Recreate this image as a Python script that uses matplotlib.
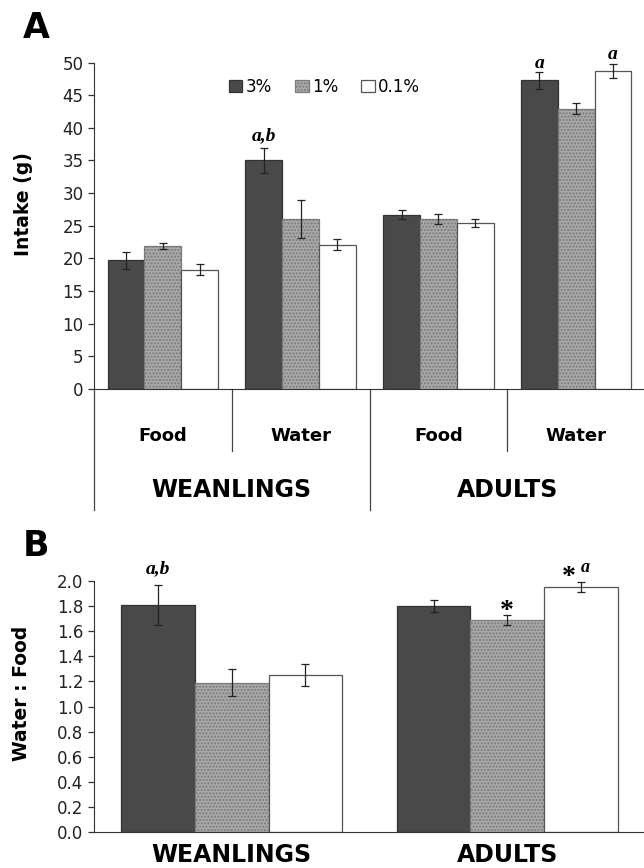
import matplotlib
matplotlib.use("Agg")
import matplotlib.pyplot as plt
import numpy as np

# panel A: intake (g)
cats_a = ["Food", "Water", "Food", "Water"]
ages = ["WEANLINGS", "ADULTS"]
a_3 = [19.7, 35.0, 26.7, 47.3]
a_3_err = [1.25, 1.85, 0.65, 1.3]
a_1 = [21.9, 26.0, 26.0, 42.9]
a_1_err = [0.45, 2.9, 0.8, 0.85]
a_01 = [18.3, 22.1, 25.4, 48.7]
a_01_err = [0.85, 0.85, 0.65, 1.1]

# panel B: water : food ratio
b_3 = [1.81, 1.80]
b_3_err = [0.16, 0.05]
b_1 = [1.19, 1.69]
b_1_err = [0.11, 0.04]
b_01 = [1.25, 1.95]
b_01_err = [0.085, 0.04]

labels = ["3%", "1%", "0.1%"]

plt.rcParams['font.family'] = ['DejaVu Sans']
fig = plt.figure(figsize=(6.44, 8.68), dpi=100)

w = 0.267
styles = [dict(color="#494949", edgecolor="#333333"),
          dict(color="#a9a9a9", edgecolor="#7a7a7a", hatch="....."),
          dict(color="white", edgecolor="#555555")]
ekw = dict(ecolor="#222222", elinewidth=0.9, capsize=3, capthick=0.9)
serif = ["Liberation Serif", "DejaVu Serif"]


def style_axes(ax):
    for s in ["top", "right"]:
        ax.spines[s].set_visible(False)
    ax.spines["left"].set_color("#333333")
    ax.spines["bottom"].set_color("#333333")
    ax.tick_params(axis="y", direction="out", length=4, width=0.9,
                   labelsize=12, colors="#333333", labelcolor="#222222")
    ax.tick_params(axis="x", length=0)
    ax.set_xticks([])


# ---- panel A
axA = fig.add_axes([94/644, 1-389/868, 551/644, 326.5/868])
x = np.arange(len(cats_a))
for i, (vals, errs) in enumerate([(a_3, a_3_err), (a_1, a_1_err), (a_01, a_01_err)]):
    axA.bar(x + (i-1)*w, vals, w, yerr=errs, error_kw=ekw, linewidth=0.9,
            label=labels[i], **styles[i])
axA.set_xlim(-0.5, 3.5)
axA.set_ylim(0, 50)
axA.set_yticks(range(0, 51, 5))
style_axes(axA)
axA.set_ylabel("Intake (g)", fontsize=13.5, fontweight="bold")
axA.yaxis.set_label_coords(-0.11, 0.567)

tr = axA.get_xaxis_transform()
for xv, low in [(-0.5, -0.371), (0.5, -0.19), (1.5, -0.371), (2.5, -0.19)]:
    axA.plot([xv, xv], [0, low], transform=tr, color="#444444", lw=0.9, clip_on=False)
for xi, c in enumerate(cats_a):
    axA.text(xi, -0.145, c, transform=tr, ha="center", va="center",
             fontsize=13, fontweight="bold")
for gi, g in enumerate(ages):
    axA.text(0.5 + 2*gi, -0.31, g, transform=tr, ha="center", va="center",
             fontsize=17, fontweight="bold")

axA.text(1 - w, 38.8, "a,b", ha="center", va="center", fontsize=14,
         fontweight="bold", style="italic", family=serif)
axA.text(3 - w, 49.9, "a", ha="center", va="center", fontsize=14,
         fontweight="bold", style="italic", family=serif)
axA.text(3 + w, 51.3, "a", ha="center", va="center", fontsize=14,
         fontweight="bold", style="italic", family=serif)

leg = fig.legend(loc="center", bbox_to_anchor=(0.504, 1-87/868), ncol=3,
                 frameon=False, fontsize=12, handlelength=0.8, handleheight=0.75,
                 handletextpad=0.2, columnspacing=1.4)

fig.text(36/644, 1-28/868, "A", ha="center", va="center", fontsize=25, fontweight="bold")

# ---- panel B
axB = fig.add_axes([94/644, 1-832/868, 551/644, 251/868])
xb = np.arange(len(ages))
wb = w
for i, (vals, errs) in enumerate([(b_3, b_3_err), (b_1, b_1_err), (b_01, b_01_err)]):
    axB.bar(xb + (i-1)*wb, vals, wb, yerr=errs, error_kw=ekw, linewidth=0.9,
            **styles[i])
axB.set_xlim(-0.5, 1.5)
axB.set_ylim(0, 2.0)
axB.set_yticks(np.arange(0, 2.01, 0.2))
axB.set_yticklabels([f"{v:.1f}" for v in np.arange(0, 2.01, 0.2)])
style_axes(axB)
axB.set_ylabel("Water : Food", fontsize=13.5, fontweight="bold")
axB.yaxis.set_label_coords(-0.115, 0.554)
trb = axB.get_xaxis_transform()
for gi, g in enumerate(ages):
    axB.text(gi, -0.09, g, transform=trb, ha="center", va="center",
             fontsize=17, fontweight="bold")

axB.text(-wb, 2.10, "a,b", ha="center", va="center", fontsize=14,
         fontweight="bold", style="italic", family=serif)
axB.text(1.0, 1.76, "*", ha="center", va="center", fontsize=20,
         fontweight="bold", family=serif)
axB.text(1.225, 2.03, "*", ha="center", va="center", fontsize=20,
         fontweight="bold", family=serif)
axB.text(1.285, 2.11, "a", ha="center", va="center", fontsize=13,
         fontweight="bold", style="italic", family=serif)

fig.text(36/644, 1-546/868, "B", ha="center", va="center", fontsize=25, fontweight="bold")

fig.savefig("out.png", dpi=100)
